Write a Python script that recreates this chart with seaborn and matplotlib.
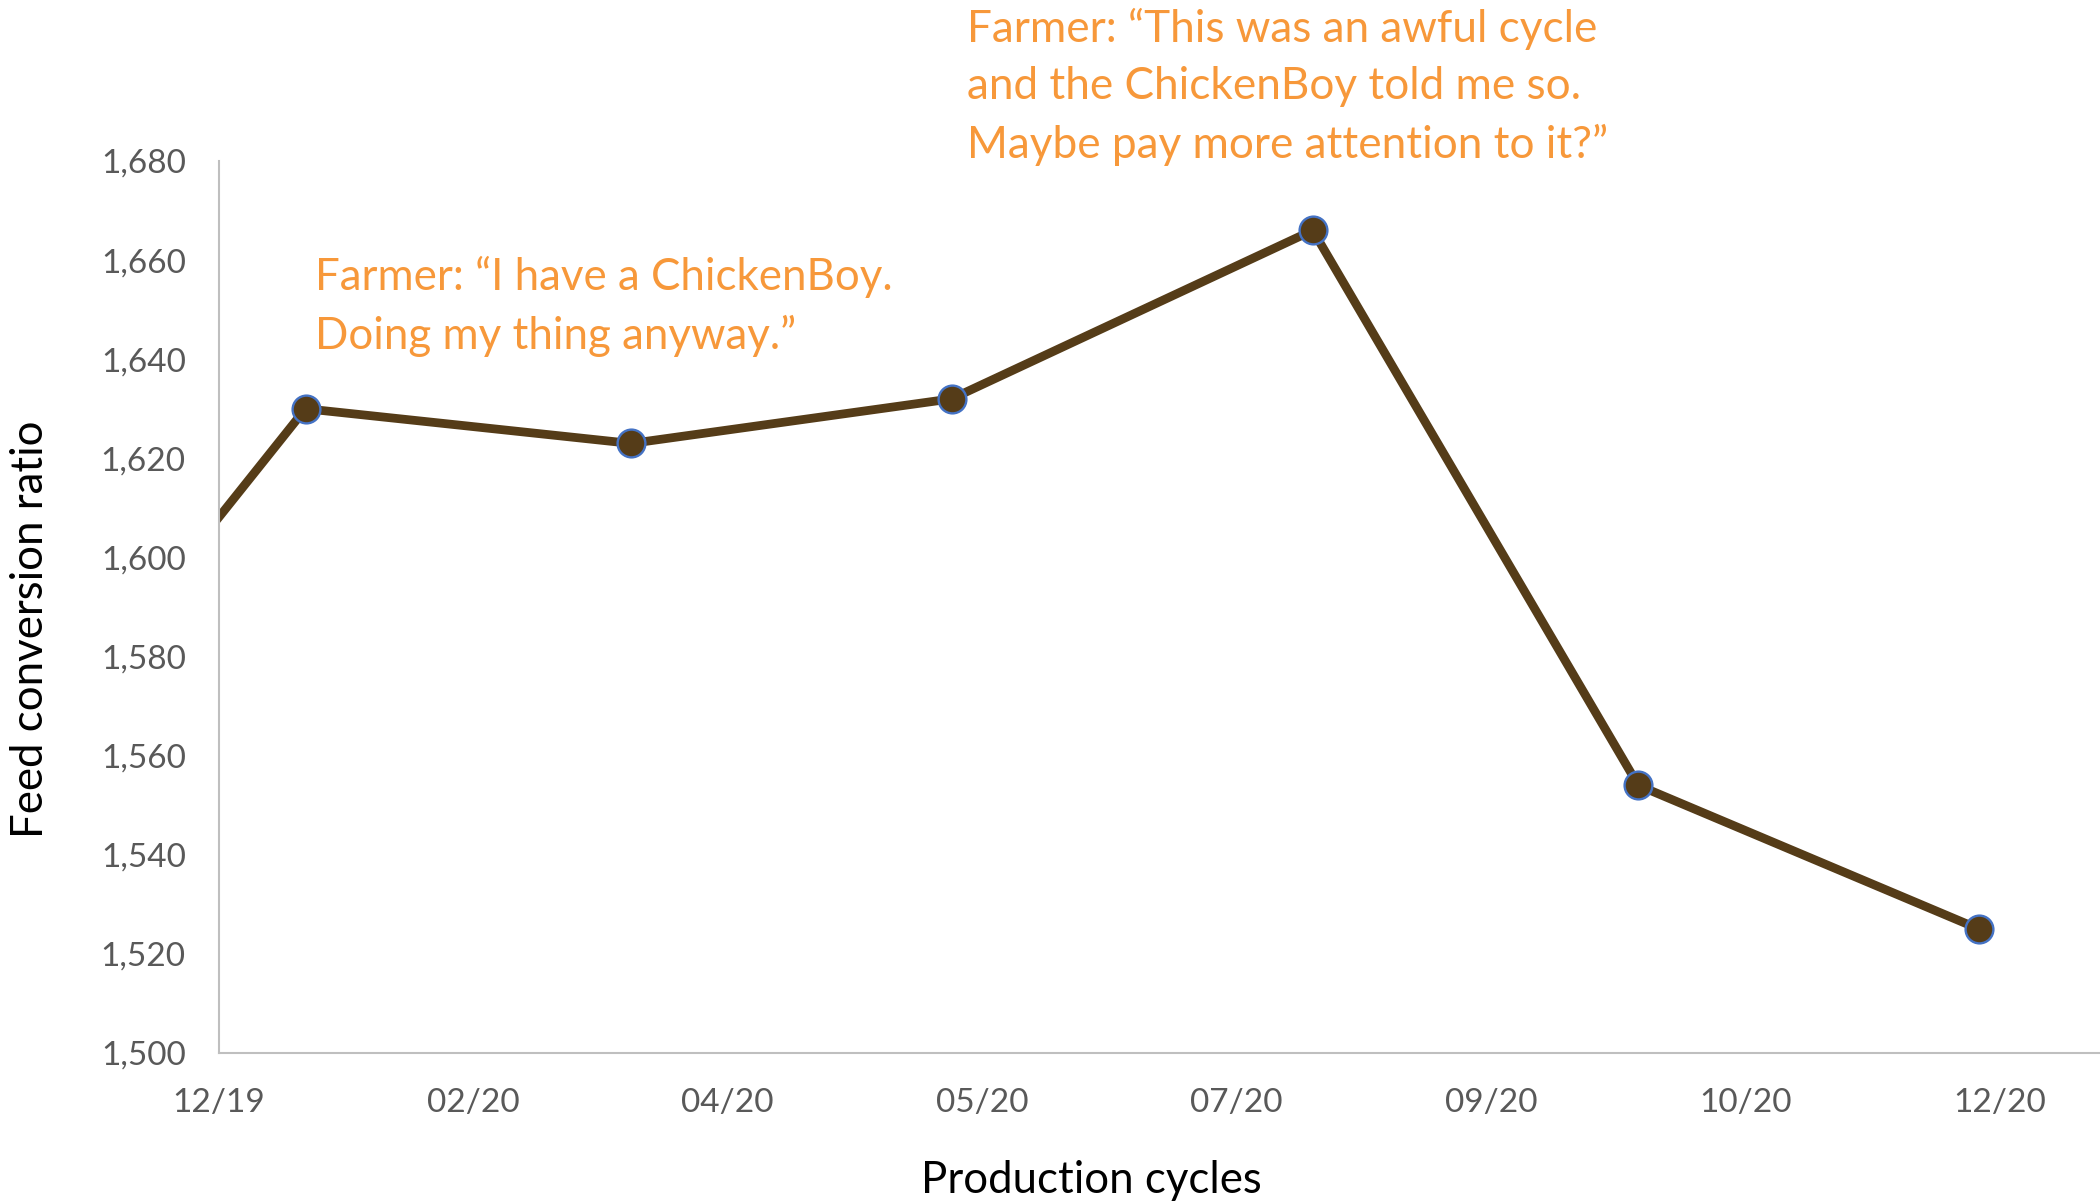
import pandas as pd
import numpy as np
import matplotlib.pyplot as plt
import seaborn as sns

# datos: ciclos de produccion y conversion alimenticia
cycle_dates = ['2019-11-12', '2020-01-14', '2020-03-18', '2020-05-20',
               '2020-07-30', '2020-10-02', '2020-12-08']
fcr = [1549, 1630, 1623, 1632, 1666, 1554, 1525]

tick_labels = ['12/19', '02/20', '04/20', '05/20', '07/20', '09/20', '10/20', '12/20']
tick_start = '2019-12-28'
tick_step_days = 50
y_ticks = [1500, 1520, 1540, 1560, 1580, 1600, 1620, 1640, 1660, 1680]

note_1 = 'Farmer: \u201cI have a ChickenBoy.\nDoing my thing anyway.\u201d'
note_2 = ('Farmer: \u201cThis was an awful cycle\nand the ChickenBoy told me so.\n'
          'Maybe pay more attention to it?\u201d')

df = pd.DataFrame({'fecha': pd.to_datetime(cycle_dates), 'fcr': fcr})

sns.set_style('white')
plt.rcParams['font.family'] = ['Lato', 'DejaVu Sans']

fig = plt.figure(figsize=(21, 12.03), dpi=100)
ax = fig.add_axes([0.1043, 0.1247, 0.8957, 0.7415])

sns.lineplot(data=df, x='fecha', y='fcr', ax=ax, color='#553C18', linewidth=6.3,
             marker='o', markersize=20, markerfacecolor='#553C18',
             markeredgecolor='#4472C4', markeredgewidth=1.7)

start = pd.Timestamp(tick_start)
ticks = [start + pd.Timedelta(days=tick_step_days * i) for i in range(len(tick_labels))]
ax.set_xlim(start, start + pd.Timedelta(days=tick_step_days * 7.395))
ax.set_xticks(ticks)
ax.set_xticklabels(tick_labels)
ax.set_ylim(1500, 1680)
ax.set_yticks(y_ticks)
ax.set_yticklabels([f'{v:,}' for v in y_ticks])

ax.tick_params(axis='both', length=0, labelsize=24, labelcolor='#595959')
ax.tick_params(axis='x', pad=25)
ax.tick_params(axis='y', pad=24)

for s in ['top', 'right']:
    ax.spines[s].set_visible(False)
for s in ['left', 'bottom']:
    ax.spines[s].set_color('#BFBFBF')
    ax.spines[s].set_linewidth(1.5)

ax.set_xlabel('Production cycles', fontsize=31.5, color='black', va='center')
ax.set_ylabel('Feed conversion ratio', fontsize=31.5, color='black', va='center')
ax.xaxis.set_label_coords(0.464, -0.143)
ax.yaxis.set_label_coords(-0.1004, 0.4745)

# anotaciones del granjero
fig.text(315 / 2100, 1 - 256 / 1203, note_1, fontsize=31.6, color='#F7983A',
         ha='left', va='top', linespacing=1.48)
fig.text(967 / 2100, 1 - 8 / 1203, note_2, fontsize=31.8, color='#F7983A',
         ha='left', va='top', linespacing=1.48)

plt.savefig('out.png', dpi=100)
print("Exito")
